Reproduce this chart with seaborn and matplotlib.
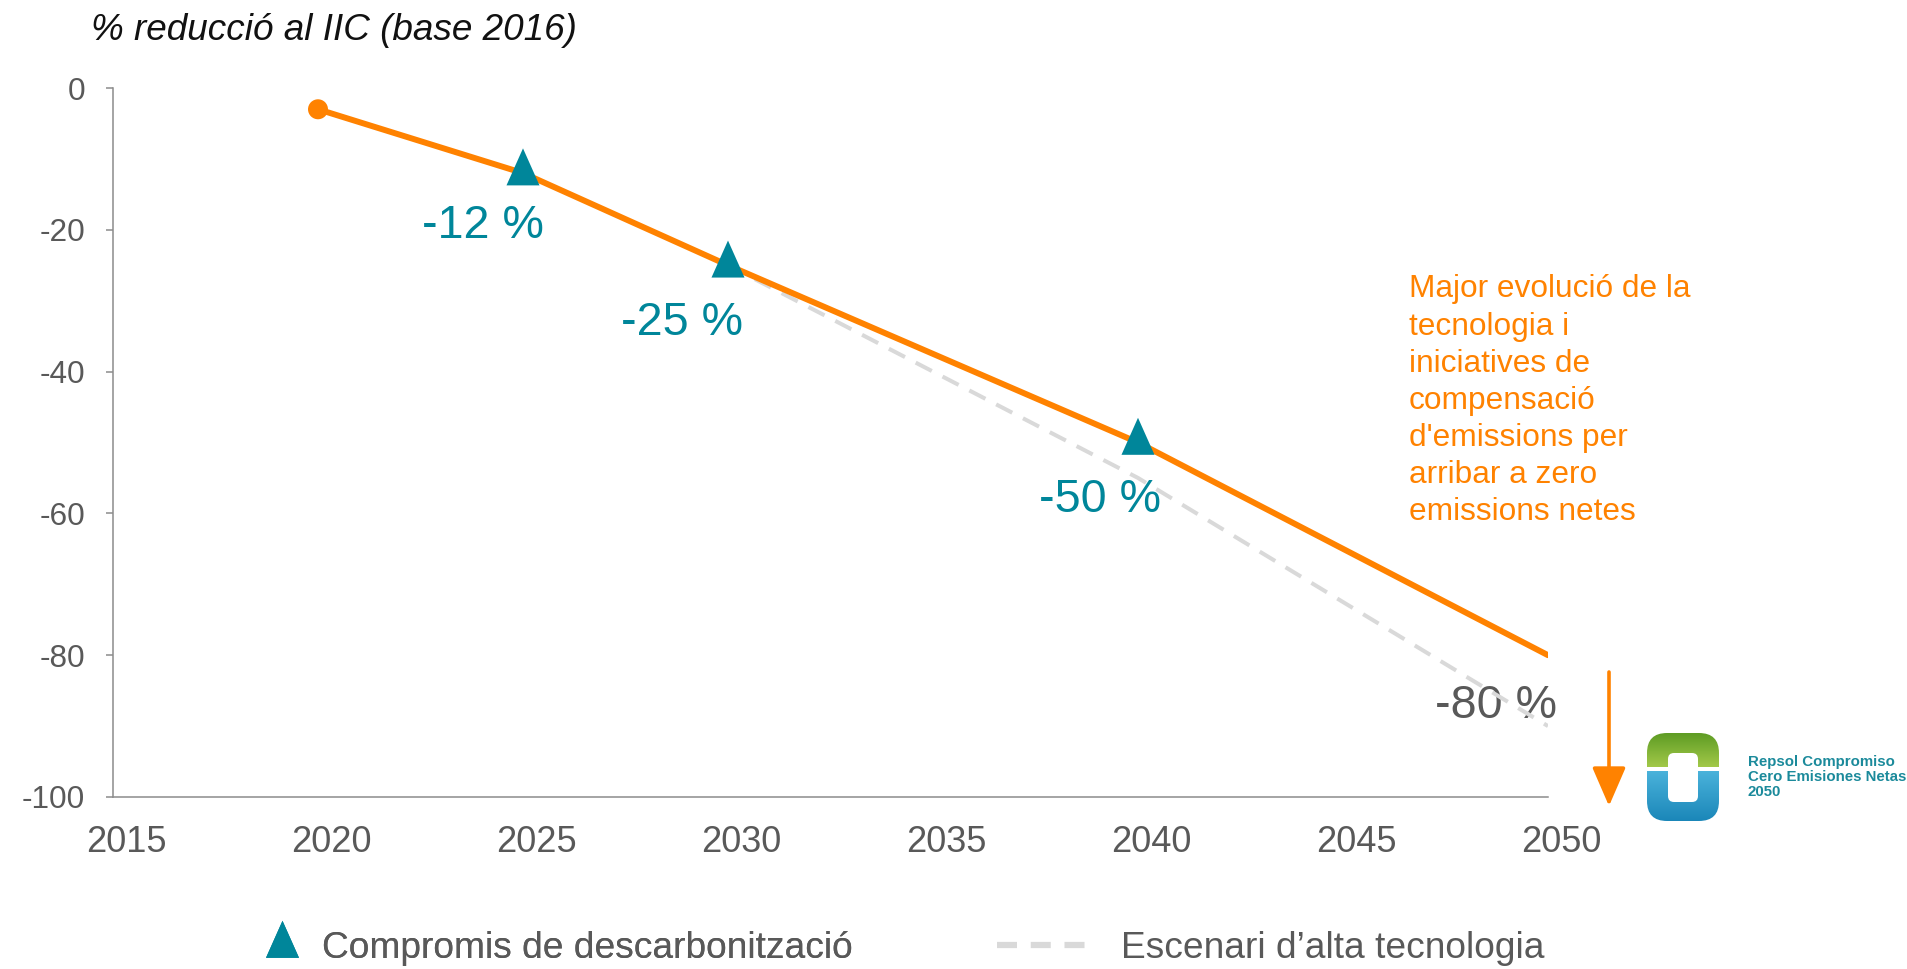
import numpy as np
import pandas as pd
import matplotlib
matplotlib.use("Agg")
import matplotlib.pyplot as plt
import matplotlib.transforms as mtransforms
from matplotlib.patches import FancyBboxPatch, Rectangle
from matplotlib.lines import Line2D
import seaborn as sns

# ---------------- data ----------------
path_years = [2020, 2025, 2030, 2040, 2050]
path_values = [-3, -12, -25, -50, -80]

target_years = [2025, 2030, 2040]
target_values = [-12, -25, -50]
target_labels = ["-12 %", "-25 %", "-50 %"]

hightech_years = [2030, 2040, 2050]
hightech_values = [-25, -55, -90]
hightech_label = "-80 %"

x_ticks = [2015, 2020, 2025, 2030, 2035, 2040, 2045, 2050]
y_ticks = [0, -20, -40, -60, -80, -100]

title = "% reducció al IIC (base 2016)"
note = "Major evolució de la\ntecnologia i\niniciatives de\ncompensació\nd'emissions per\narribar a zero\nemissions netes"
legend_labels = ["Compromis de descarbonització", "Escenari d\u2019alta tecnologia"]
logo_text = "Repsol Compromiso\nCero Emisiones Netas\n2050"

# ---------------- style ----------------
ORANGE = "#FF8200"
TEAL = "#00869A"
GREY_TXT = "#595959"
DASH = "#D9D9D9"
SPINE = "#8C8C8C"

sns.set_style("white")
plt.rcParams["font.family"] = ["Liberation Sans", "DejaVu Sans"]
plt.rcParams["axes.unicode_minus"] = False

W, H = 1907, 969
fig = plt.figure(figsize=(W / 100, H / 100), dpi=100)
ax = fig.add_axes([113 / W, 1 - 797 / H, (1548 - 113) / W, (797 - 88) / H])

df_path = pd.DataFrame({"year": path_years, "value": path_values})
df_tech = pd.DataFrame({"year": hightech_years, "value": hightech_values})
df_target = pd.DataFrame({"year": target_years, "value": target_values})

# high-tech scenario (dashed)
sns.lineplot(data=df_tech, x="year", y="value", ax=ax, color=DASH, lw=2.9,
             legend=False, zorder=2)
ax.lines[-1].set_dashes((4.5, 3.0))
# main path
sns.lineplot(data=df_path, x="year", y="value", ax=ax, color=ORANGE, lw=4.3,
             legend=False, zorder=3)
# start dot
sns.scatterplot(x=path_years[:1], y=path_values[:1], ax=ax, color=ORANGE, s=207,
                edgecolor="none", linewidth=0, zorder=4, legend=False)
# triangle with centroid at the data point
tri = [(0.0, 24.7), (-16.5, -12.3), (16.5, -12.3)]
sns.scatterplot(data=df_target, x="year", y="value", ax=ax, color=TEAL,
                marker=tri, s=35.6 ** 2, edgecolor="none", linewidth=0,
                zorder=5, legend=False)

# labels
label_pos = [(2024.02, -19.5), (2028.88, -33.2), (2039.08, -58.1)]
for (lx, ly), t in zip(label_pos, target_labels):
    ax.text(lx, ly, t, color=TEAL, fontsize=33.6, ha="center", va="center")
ax.text(2048.73, -87.2, hightech_label, color=GREY_TXT, fontsize=33.6,
        ha="center", va="center", zorder=1)
ax.text(2046.6, -26.3, note, color=ORANGE, fontsize=22.8, ha="left", va="top",
        linespacing=1.31)

# axes
ax.set_xlim(2015, 2050)
ax.set_ylim(-100, 0)
ax.set_xticks(x_ticks)
ax.set_yticks(y_ticks)
ax.set_xlabel("")
ax.set_ylabel("")
for s in ["top", "right"]:
    ax.spines[s].set_visible(False)
for s in ["left", "bottom"]:
    ax.spines[s].set_color(SPINE)
    ax.spines[s].set_linewidth(1.1)
ax.tick_params(axis="x", length=0, pad=20, labelsize=26, labelcolor=GREY_TXT)
ax.tick_params(axis="y", left=True, length=5, width=1.1, color=SPINE, pad=15,
               labelsize=22.7, labelcolor=GREY_TXT)
off = mtransforms.ScaledTranslation(13 / 100, 0, fig.dpi_scale_trans)
for lab in ax.get_xticklabels():
    lab.set_transform(lab.get_transform() + off)
ax.grid(False)

# title
fig.text(91 / W, 1 - 30 / H, title, fontsize=26.6, style="italic",
         color="#111111", ha="left", va="center")

# arrow
ax.annotate("", xy=(1609 / W, 1 - 806 / H), xycoords="figure fraction",
            xytext=(1609 / W, 1 - 672 / H), textcoords="figure fraction",
            arrowprops=dict(arrowstyle="-|>,head_length=24,head_width=10.4",
                            mutation_scale=1, color=ORANGE, lw=2.6,
                            shrinkA=0, shrinkB=0))

# legends
h1 = Line2D([], [], linestyle="none", marker=tri, markersize=35.6,
            markerfacecolor=TEAL, markeredgewidth=0, color=TEAL)
h2 = Line2D([], [], color=DASH, lw=4.5, dashes=(3.2, 2.2))
leg1 = fig.legend([h1], [legend_labels[0]], loc="center left",
                  bbox_to_anchor=(263.5 / W, 1 - 948 / H), frameon=False,
                  fontsize=26.7, handlelength=1.0, handletextpad=0.58,
                  borderpad=0, borderaxespad=0, labelcolor=GREY_TXT)
leg2 = fig.legend([h2], [legend_labels[1]], loc="center left",
                  bbox_to_anchor=(997 / W, 1 - 948 / H), frameon=False,
                  fontsize=26.7, handlelength=2.62, handletextpad=0.73,
                  borderpad=0, borderaxespad=0, labelcolor=GREY_TXT)
fig.add_artist(leg1)

# logo
lax = fig.add_axes([1647 / W, 1 - 821 / H, 72 / W, 88 / H])
lax.set_xlim(0, 72)
lax.set_ylim(0, 88)
lax.axis("off")
n = 88
grad = np.zeros((n, 2, 3))
g_top = np.array([0x5E, 0x9C, 0x24]) / 255
g_bot = np.array([0xA8, 0xCC, 0x4C]) / 255
b_top = np.array([0x1A, 0x86, 0xB8]) / 255
b_bot = np.array([0x4C, 0xB4, 0xDC]) / 255
for i in range(n):
    yy = 88 - i
    if yy > 52:
        t = (88 - yy) / 36
        grad[i, :] = g_top * (1 - t) + g_bot * t
    else:
        t = (52 - yy) / 52
        grad[i, :] = b_bot * (1 - t) + b_top * t
outer = FancyBboxPatch((0, 0), 72, 88, boxstyle="round,pad=0,rounding_size=20",
                       facecolor="none", edgecolor="none")
lax.add_patch(outer)
im = lax.imshow(grad, extent=[0, 72, 0, 88], aspect="auto", origin="upper")
im.set_clip_path(outer)
lax.add_patch(FancyBboxPatch((21, 19), 30, 49, boxstyle="round,pad=0,rounding_size=6",
                             facecolor="white", edgecolor="none"))
lax.add_patch(Rectangle((0, 50), 72, 4, facecolor="white", edgecolor="none"))
fig.text(1748 / W, 1 - 777 / H, logo_text, fontsize=10.8, fontweight="bold",
         color="#1B8A9B", ha="left", va="center", linespacing=1.05)

fig.savefig("out.png", dpi=100)
